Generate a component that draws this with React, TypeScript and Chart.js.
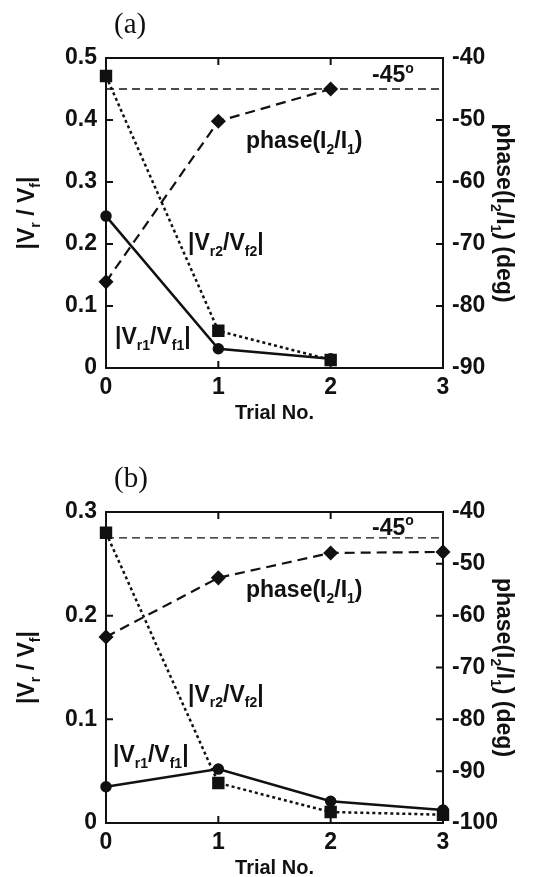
import React, { useEffect, useRef } from "react";
import { Chart, registerables } from "chart.js";
Chart.register(...registerables);

// ---------- data ----------
const trialsA = [0, 1, 2];
const vr1A = [0.245, 0.031, 0.015];
const vr2A = [0.471, 0.06, 0.013];
const phaseA = [-76.1, -50.2, -45.0];

const trialsB = [0, 1, 2, 3];
const vr1B = [0.035, 0.052, 0.021, 0.0125];
const vr2B = [0.28, 0.0386, 0.0106, 0.008];
const phaseB = [-64.1, -52.7, -47.9, -47.7];

const refPhase = -45;
const refSpan = [0, 3];
const xRange = [0, 3];

const FONT = "'Liberation Sans', Arial, sans-serif";
const SERIF = "'Liberation Serif', 'Times New Roman', serif";
const INK = "#111";

type Seg = { t: string; s?: "sub" | "sup" };
const txtVr1: Seg[] = [{ t: "|V" }, { t: "r1", s: "sub" }, { t: "/V" }, { t: "f1", s: "sub" }, { t: "|" }];
const txtVr2: Seg[] = [{ t: "|V" }, { t: "r2", s: "sub" }, { t: "/V" }, { t: "f2", s: "sub" }, { t: "|" }];
const txtPhase: Seg[] = [{ t: "phase(I" }, { t: "2", s: "sub" }, { t: "/I" }, { t: "1", s: "sub" }, { t: ")" }];
const txt45: Seg[] = [{ t: "-45" }, { t: "o", s: "sup" }];
const txtLeft: Seg[] = [{ t: "|V" }, { t: "r", s: "sub" }, { t: " / V" }, { t: "f", s: "sub" }, { t: "|" }];
const txtRight: Seg[] = [{ t: "phase(I" }, { t: "2", s: "sub" }, { t: "/I" }, { t: "1", s: "sub" }, { t: ") (deg)" }];

function segFont(size: number, s?: string) {
  const sz = s ? Math.round(size * 0.62) : size;
  return `bold ${sz}px ${FONT}`;
}
function richWidth(ctx: CanvasRenderingContext2D, segs: Seg[], size: number) {
  let w = 0;
  for (const g of segs) {
    ctx.font = segFont(size, g.s);
    w += ctx.measureText(g.t).width;
  }
  return w;
}
function drawRich(ctx: CanvasRenderingContext2D, segs: Seg[], x: number, y: number, size: number, align: "left" | "center") {
  const w = richWidth(ctx, segs, size);
  let cx = align === "center" ? x - w / 2 : x;
  ctx.textAlign = "left";
  ctx.textBaseline = "alphabetic";
  ctx.fillStyle = INK;
  for (const g of segs) {
    ctx.font = segFont(size, g.s);
    const off = g.s === "sub" ? size * 0.25 : g.s === "sup" ? -size * 0.42 : 0;
    ctx.fillText(g.t, cx, y + off);
    cx += ctx.measureText(g.t).width;
  }
}

type PanelCfg = {
  top: number;
  height: number;
  padTop: number;
  xAxisH: number;
  leftMax: number;
  rightMin: number;
  trials: number[];
  vr1: number[];
  vr2: number[];
  phase: number[];
  tag: string;
  notes: { segs: Seg[]; x: number; y: number }[];
};

const PANELS: PanelCfg[] = [
  {
    top: 0,
    height: 440,
    padTop: 58,
    xAxisH: 72,
    leftMax: 0.5,
    rightMin: -90,
    trials: trialsA,
    vr1: vr1A,
    vr2: vr2A,
    phase: phaseA,
    tag: "(a)",
    notes: [
      { segs: txt45, x: 2.368, y: 0.461 },
      { segs: txtPhase, x: 1.246, y: 0.355 },
      { segs: txtVr2, x: 0.73, y: 0.19 },
      { segs: txtVr1, x: 0.08, y: 0.039 },
    ],
  },
  {
    top: 440,
    height: 437,
    padTop: 72,
    xAxisH: 54,
    leftMax: 0.3,
    rightMin: -100,
    trials: trialsB,
    vr1: vr1B,
    vr2: vr2B,
    phase: phaseB,
    tag: "(b)",
    notes: [
      { segs: txt45, x: 2.368, y: 0.278 },
      { segs: txtPhase, x: 1.246, y: 0.218 },
      { segs: txtVr2, x: 0.73, y: 0.117 },
      { segs: txtVr1, x: 0.062, y: 0.059 },
    ],
  },
];

function makeDecor(cfg: PanelCfg) {
  return {
    id: "decor",
    beforeDatasetsDraw(chart: any) {
      const ctx: CanvasRenderingContext2D = chart.ctx;
      const a = chart.chartArea;
      const xs = chart.scales.x;
      const yl = chart.scales.yL;
      const yr = chart.scales.yR;
      ctx.save();
      ctx.strokeStyle = INK;
      ctx.lineWidth = 2;
      ctx.strokeRect(a.left, a.top, a.right - a.left, a.bottom - a.top);
      const TL = 7;
      ctx.beginPath();
      for (const t of xs.ticks) {
        const p = xs.getPixelForValue(t.value);
        if (Math.abs(p - a.left) < 2 || Math.abs(p - a.right) < 2) continue;
        ctx.moveTo(p, a.bottom);
        ctx.lineTo(p, a.bottom - TL);
        ctx.moveTo(p, a.top);
        ctx.lineTo(p, a.top + TL);
      }
      for (const t of yl.ticks) {
        const p = yl.getPixelForValue(t.value);
        if (Math.abs(p - a.top) < 2 || Math.abs(p - a.bottom) < 2) continue;
        ctx.moveTo(a.left, p);
        ctx.lineTo(a.left + TL, p);
      }
      for (const t of yr.ticks) {
        const p = yr.getPixelForValue(t.value);
        if (Math.abs(p - a.top) < 2 || Math.abs(p - a.bottom) < 2) continue;
        ctx.moveTo(a.right, p);
        ctx.lineTo(a.right - TL, p);
      }
      ctx.stroke();
      ctx.restore();
    },
    afterDatasetsDraw(chart: any) {
      const ctx: CanvasRenderingContext2D = chart.ctx;
      const a = chart.chartArea;
      const xs = chart.scales.x;
      const yl = chart.scales.yL;
      ctx.save();
      for (const n of cfg.notes) {
        drawRich(ctx, n.segs, xs.getPixelForValue(n.x), yl.getPixelForValue(n.y), 23, "left");
      }
      // x title
      ctx.font = `bold 20px ${FONT}`;
      ctx.fillStyle = INK;
      ctx.textAlign = "center";
      ctx.textBaseline = "alphabetic";
      ctx.fillText("Trial No.", (a.left + a.right) / 2, a.bottom + 51);
      // left title
      const cy = (a.top + a.bottom) / 2;
      ctx.save();
      ctx.translate(34, cy);
      ctx.rotate(-Math.PI / 2);
      drawRich(ctx, txtLeft, 0, 0, 23, "center");
      ctx.restore();
      // right title
      ctx.save();
      ctx.translate(497, cy);
      ctx.rotate(Math.PI / 2);
      drawRich(ctx, txtRight, 0, 0, 23, "center");
      ctx.restore();
      // panel tag
      ctx.font = `29px ${SERIF}`;
      ctx.fillStyle = INK;
      ctx.textAlign = "left";
      ctx.fillText(cfg.tag, 114, a.top - 25);
      ctx.restore();
    },
  };
}

function Panel({ cfg }: { cfg: PanelCfg }) {
  const ref = useRef<HTMLCanvasElement>(null);
  useEffect(() => {
    const tickFont = { family: FONT, size: 23, weight: "bold" as const };
    const chart = new Chart(ref.current as HTMLCanvasElement, {
      type: "line",
      data: {
        datasets: [
          {
            label: "|Vr1/Vf1|",
            data: cfg.trials.map((t, i) => ({ x: t, y: cfg.vr1[i] })),
            yAxisID: "yL",
            borderColor: INK,
            backgroundColor: INK,
            borderWidth: 2.5,
            pointStyle: "circle",
            pointRadius: 4.5,
            clip: false as any,
          },
          {
            label: "|Vr2/Vf2|",
            data: cfg.trials.map((t, i) => ({ x: t, y: cfg.vr2[i] })),
            yAxisID: "yL",
            borderColor: INK,
            backgroundColor: INK,
            borderWidth: 2.5,
            borderDash: [3, 3],
            pointStyle: "rect",
            pointRadius: 7,
            clip: false as any,
          },
          {
            label: "phase(I2/I1)",
            data: cfg.trials.map((t, i) => ({ x: t, y: cfg.phase[i] })),
            yAxisID: "yR",
            borderColor: INK,
            backgroundColor: INK,
            borderWidth: 2.2,
            borderDash: [10, 6],
            pointStyle: "rectRot",
            pointRadius: 6,
            clip: false as any,
          },
          {
            label: "-45",
            data: refSpan.map((t) => ({ x: t, y: refPhase })),
            yAxisID: "yR",
            borderColor: INK,
            borderWidth: 1.4,
            borderDash: [8, 5],
            pointRadius: 0,
            clip: false as any,
          },
        ],
      },
      options: {
        animation: false,
        responsive: false,
        devicePixelRatio: 1,
        layout: { padding: { top: cfg.padTop, left: 0, right: 0, bottom: 0 } },
        plugins: { legend: { display: false }, tooltip: { enabled: false } },
        scales: {
          x: {
            type: "linear",
            min: xRange[0],
            max: xRange[1],
            ticks: { stepSize: 1, font: tickFont, color: INK, padding: 6 },
            grid: { display: false, drawTicks: false },
            border: { display: false },
            afterFit: (s: any) => {
              s.height = cfg.xAxisH;
            },
          },
          yL: {
            type: "linear",
            position: "left",
            min: 0,
            max: cfg.leftMax,
            ticks: { stepSize: 0.1, font: tickFont, color: INK, padding: 9 },
            grid: { display: false, drawTicks: false },
            border: { display: false },
            afterFit: (s: any) => {
              s.width = 106;
            },
          },
          yR: {
            type: "linear",
            position: "right",
            min: cfg.rightMin,
            max: -40,
            ticks: { stepSize: 10, font: tickFont, color: INK, padding: 9 },
            grid: { display: false, drawTicks: false },
            border: { display: false },
            afterFit: (s: any) => {
              s.width = 108;
            },
          },
        },
      } as any,
      plugins: [makeDecor(cfg)],
    });
    return () => chart.destroy();
  }, [cfg]);
  return (
    <canvas
      ref={ref}
      width={551}
      height={cfg.height}
      style={{ position: "absolute", left: 0, top: cfg.top, width: 551, height: cfg.height }}
    />
  );
}

export default function App() {
  return (
    <div style={{ position: "fixed", left: 0, top: 0, width: 551, height: 877, background: "#fff" }}>
      {PANELS.map((p) => (
        <Panel key={p.tag} cfg={p} />
      ))}
    </div>
  );
}
